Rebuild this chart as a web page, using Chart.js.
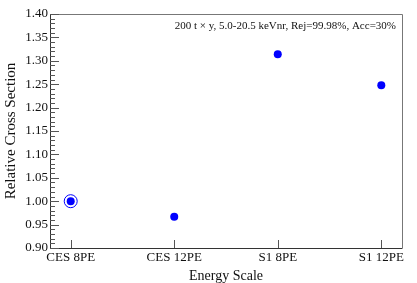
<!DOCTYPE html>
<html>
<head>
<meta charset="utf-8">
<script src="https://cdn.jsdelivr.net/npm/chart.js@4/dist/chart.umd.min.js"></script>
<style>
  html, body { margin: 0; padding: 0; background: #fff; }
  #wrap { width: 417px; height: 283px; }
</style>
</head>
<body>
<div id="wrap"><canvas id="c" width="417" height="283"></canvas></div>
<script>
// energy scales and relative cross sections
const categories = ["CES 8PE", "CES 12PE", "S1 8PE", "S1 12PE"];
const crossSection = [1.0, 0.967, 1.314, 1.248];
const refIndex = 0; // reference point (circled)
const yTicks = [0.9, 0.95, 1.0, 1.05, 1.1, 1.15, 1.2, 1.25, 1.3, 1.35, 1.4];
const note = "200 t \u00d7 y, 5.0-20.5 keVnr, Rej=99.98%, Acc=30%";

const serif = "'Liberation Serif', 'DejaVu Serif', serif";

const points = crossSection.map((v, i) => ({ x: i, y: v }));

// frame, inward ticks and the note in the corner
const framePlugin = {
  id: "frame",
  afterDraw(chart) {
    const { ctx, chartArea: a, scales } = chart;
    const xs = scales.x, ys = scales.y;
    ctx.save();
    ctx.lineWidth = 1;
    // top + right
    ctx.strokeStyle = "#777";
    ctx.beginPath();
    ctx.moveTo(a.left, a.top + 0.5);
    ctx.lineTo(a.right + 0.5, a.top + 0.5);
    ctx.lineTo(a.right + 0.5, a.bottom);
    ctx.stroke();
    // left + bottom
    ctx.strokeStyle = "#333";
    ctx.beginPath();
    ctx.moveTo(a.left + 0.5, a.top);
    ctx.lineTo(a.left + 0.5, a.bottom + 0.5);
    ctx.lineTo(a.right + 0.5, a.bottom + 0.5);
    ctx.stroke();
    // y ticks, minor every 0.01
    ctx.strokeStyle = "#555";
    ctx.beginPath();
    for (let k = 90; k <= 140; k++) {
      const py = Math.round(ys.getPixelForValue(k / 100)) + 0.5;
      const len = k % 5 === 0 ? 9 : 5;
      ctx.moveTo(a.left, py);
      ctx.lineTo(a.left + len, py);
    }
    // x ticks at categories
    categories.forEach((c, i) => {
      const px = Math.round(xs.getPixelForValue(i)) + 0.5;
      ctx.moveTo(px, a.bottom);
      ctx.lineTo(px, a.bottom - 8);
    });
    ctx.stroke();
    // note
    ctx.fillStyle = "#111";
    ctx.font = "11px " + serif;
    ctx.textAlign = "right";
    ctx.textBaseline = "middle";
    ctx.fillText(note, a.right - 6, a.top + 12);
    ctx.restore();
  },
};

new Chart(document.getElementById("c"), {
  type: "scatter",
  data: {
    datasets: [
      {
        data: points,
        pointRadius: 4,
        pointHoverRadius: 4,
        backgroundColor: "#0000ff",
        borderColor: "#0000ff",
        borderWidth: 0,
      },
      {
        data: [points[refIndex]],
        pointRadius: 6.5,
        pointHoverRadius: 6.5,
        backgroundColor: "rgba(0,0,0,0)",
        borderColor: "#0000ff",
        borderWidth: 1,
      },
    ],
  },
  options: {
    responsive: false,
    animation: false,
    events: [],
    layout: { padding: { top: 14, right: 15, left: 0, bottom: 0 } },
    plugins: { legend: { display: false }, tooltip: { enabled: false } },
    scales: {
      x: {
        type: "linear",
        min: -0.2,
        max: 3.2,
        grid: { display: false, drawTicks: false },
        border: { display: false },
        afterBuildTicks: (s) => { s.ticks = categories.map((c, i) => ({ value: i })); },
        afterFit: (s) => { s.height = 35; },
        ticks: {
          color: "#111",
          padding: 2,
          maxRotation: 0,
          autoSkip: false,
          font: { family: serif, size: 13 },
          callback: (v) => categories[v],
        },
        title: {
          display: true,
          text: "Energy Scale",
          color: "#111",
          padding: 0,
          font: { family: serif, size: 14, lineHeight: 1.0 },
        },
      },
      y: {
        min: 0.9,
        max: 1.4,
        grid: { display: false, drawTicks: false },
        border: { display: false },
        afterBuildTicks: (s) => { s.ticks = yTicks.map((v) => ({ value: v })); },
        afterFit: (s) => { s.width = 50; },
        ticks: {
          color: "#111",
          padding: 2,
          font: { family: serif, size: 13 },
          callback: (v) => Number(v).toFixed(2),
        },
        title: {
          display: true,
          text: "Relative Cross Section",
          color: "#111",
          padding: 2,
          font: { family: serif, size: 15 },
        },
      },
    },
  },
  plugins: [framePlugin],
});
</script>
</body>
</html>
